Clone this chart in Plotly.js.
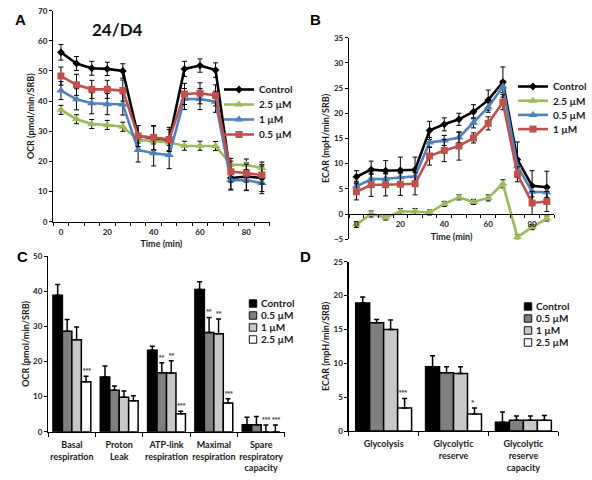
<!DOCTYPE html>
<html>
<head>
<meta charset="utf-8">
<script src="https://cdn.plot.ly/plotly-3.0.1.min.js"></script>
<style>
  html, body { margin: 0; padding: 0; background: #fff; }
  #chart { width: 592px; height: 480px; }
</style>
</head>
<body>
<div id="chart"></div>
<script>
// ---------- Panel A: OCR time course ----------
const timeMin = [0, 6.7, 13.3, 20, 26.7, 33.3, 40, 46.7, 53.3, 60, 66.7, 73.3, 80, 86.7];
const timeTickVals = [0, 20, 40, 60, 80];

const ocrControl    = [56.2, 52.5, 50.9, 50.7, 50.0, 28.4, 27.7, 27.1, 50.7, 51.8, 50.3, 14.5, 15.0, 14.5];
const ocrControlErr = [2.6, 2.3, 2.3, 2.2, 2.4, 3.5, 4.0, 3.5, 2.5, 2.2, 2.4, 4.0, 4.5, 4.5];
const ocr25         = [37.1, 34.0, 32.4, 32.1, 31.5, 27.1, 26.8, 26.3, 25.2, 25.2, 25.1, 19.0, 18.8, 17.8];
const ocr25Err      = [1.5, 1.5, 1.5, 1.5, 1.5, 1.0, 1.0, 1.0, 1.5, 1.5, 1.5, 2.0, 2.0, 2.0];
const ocr1          = [43.5, 40.6, 39.3, 39.0, 38.9, 23.8, 22.7, 22.1, 40.7, 40.7, 39.8, 13.8, 13.8, 12.8];
const ocr1Err       = [3.0, 3.5, 3.5, 3.5, 3.5, 4.0, 4.2, 4.5, 3.5, 3.5, 3.5, 3.0, 3.5, 3.5];
const ocr05         = [48.3, 45.4, 43.9, 43.9, 43.5, 28.4, 27.9, 27.3, 42.4, 42.6, 41.9, 16.6, 16.1, 15.5];
const ocr05Err      = [3.0, 3.5, 3.0, 3.0, 3.5, 3.5, 4.0, 4.0, 3.5, 3.5, 3.5, 3.5, 3.0, 3.0];

// ---------- Panel B: ECAR time course ----------
const ecarControl    = [7.4, 8.8, 8.6, 8.7, 8.8, 16.6, 17.8, 18.8, 20.3, 22.6, 26.2, 10.8, 5.6, 5.3];
const ecarControlErr = [1.2, 1.7, 2.0, 2.6, 2.5, 1.8, 1.3, 1.2, 1.4, 2.0, 3.0, 3.5, 3.0, 3.2];
const ecar25         = [-2.1, 0.0, -0.7, 0.5, 0.5, 0.3, 2.0, 3.3, 2.4, 3.2, 6.0, -4.6, -2.6, -0.9];
const ecar25Err      = [0.6, 0.6, 0.5, 0.6, 0.6, 0.5, 0.5, 0.5, 0.5, 0.6, 0.8, 0.5, 0.5, 0.5];
const ecar05         = [5.5, 6.9, 7.0, 7.3, 7.5, 14.2, 14.6, 15.2, 18.1, 21.2, 25.3, 9.5, 4.4, 4.3];
const ecar05Err      = [1.0, 1.0, 1.0, 1.0, 1.0, 1.0, 1.0, 1.0, 1.0, 1.0, 1.2, 1.5, 1.0, 1.0];
const ecar1          = [4.4, 5.8, 5.8, 5.9, 6.0, 11.5, 12.6, 13.5, 15.1, 18.0, 22.2, 7.9, 2.2, 2.5];
const ecar1Err       = [1.6, 2.3, 2.2, 2.2, 2.2, 1.8, 2.2, 2.8, 1.0, 1.3, 1.5, 1.5, 2.3, 2.0];

// ---------- Panel C: OCR parameters ----------
const catsC = ['Basal<br>respiration', 'Proton<br>Leak', 'ATP-link<br>respiration', 'Maximal<br>respiration', 'Spare<br>respiratory<br>capacity'];
const cCtrl   = [38.8, 15.6, 23.2, 40.5, 2.0];
const cCtrlE  = [3.1, 3.1, 1.1, 2.2, 2.1];
const c05     = [28.6, 11.8, 16.8, 28.2, 2.0];
const c05E    = [3.3, 1.2, 2.8, 4.3, 2.3];
const c1      = [26.2, 9.8, 16.7, 27.9, 0.0];
const c1E     = [3.6, 1.8, 3.5, 4.2, 1.9];
const c25     = [14.2, 8.8, 5.1, 8.2, 0.0];
const c25E    = [1.6, 1.4, 0.7, 1.2, 1.9];
const cSigCtrl = ['', '', '', '', ''];
const cSig05   = ['', '', '**', '**', ''];
const cSig1    = ['', '', '**', '**', '***'];
const cSig25   = ['***', '', '***', '***', '***'];

// ---------- Panel D: ECAR parameters ----------
const catsD = ['Glycolysis', 'Glycolytic<br>reserve', 'Glycolytic<br>reserve<br>capacity'];
const dCtrl  = [18.9, 9.5, 1.3];
const dCtrlE = [0.9, 1.6, 1.5];
const d05    = [16.0, 8.6, 1.6];
const d05E   = [0.45, 0.9, 0.6];
const d1     = [15.0, 8.5, 1.6];
const d1E    = [1.4, 1.0, 0.6];
const d25    = [3.4, 2.5, 1.6];
const d25E   = [1.4, 0.9, 0.7];
const dSigCtrl = ['', '', ''];
const dSig05   = ['', '', ''];
const dSig1    = ['', '', ''];
const dSig25   = ['***', '*', ''];

// ---------- styles ----------
const FONT = 'Lato, "Open Sans", sans-serif';
const STAR_FONT = '"Liberation Sans", Arial, sans-serif';
const TXT = '#1a1a1a';
const colCtrl = '#000000', colGreen = '#9BBB59', colBlue = '#4F81BD', colRed = '#C0504D';
const barFill = ['#000000', '#7f7f7f', '#c8c8c8', '#ffffff'];
const barNames = ['Control', '0.5 \u00b5M', '1 \u00b5M', '2.5 \u00b5M'];
const W = 592, H = 480;

function lineTrace(x, y, err, name, color, symbol, msize, xa, ya, lg) {
  return {
    type: 'scatter', mode: 'lines+markers', x: x, y: y, name: name,
    xaxis: xa, yaxis: ya, legend: lg,
    line: { color: color, width: 2.6 },
    marker: { color: color, symbol: symbol, size: msize },
    error_y: { type: 'data', array: err, visible: true, color: '#000', thickness: 1, width: 2.5 }
  };
}

const data = [];
// Panel A
data.push(lineTrace(timeMin, ocrControl, ocrControlErr, 'Control', colCtrl, 'diamond', 6, 'x', 'y', 'legend'));
data.push(lineTrace(timeMin, ocr25, ocr25Err, '2.5 \u00b5M', colGreen, 'triangle-up', 8, 'x', 'y', 'legend'));
data.push(lineTrace(timeMin, ocr1, ocr1Err, '1 \u00b5M', colBlue, 'triangle-up', 8, 'x', 'y', 'legend'));
data.push(lineTrace(timeMin, ocr05, ocr05Err, '0.5 \u00b5M', colRed, 'square', 7, 'x', 'y', 'legend'));
// Panel B
data.push(lineTrace(timeMin, ecarControl, ecarControlErr, 'Control', colCtrl, 'diamond', 6, 'x2', 'y2', 'legend2'));
data.push(lineTrace(timeMin, ecar25, ecar25Err, '2.5 \u00b5M', colGreen, 'triangle-up', 8, 'x2', 'y2', 'legend2'));
data.push(lineTrace(timeMin, ecar05, ecar05Err, '0.5 \u00b5M', colBlue, 'triangle-up', 8, 'x2', 'y2', 'legend2'));
data.push(lineTrace(timeMin, ecar1, ecar1Err, '1 \u00b5M', colRed, 'square', 7, 'x2', 'y2', 'legend2'));

// Bar panels
const gapC = 0.16, gapD = 0.27;
function barSet(cats, series, errs, sigs, xa, ya, lg, gap, ymaxPad) {
  const idx = cats.map((c, i) => i);
  const w = (1 - gap) / series.length;
  series.forEach((vals, s) => {
    data.push({
      type: 'bar', x: idx, y: vals, name: barNames[s], xaxis: xa, yaxis: ya, legend: lg,
      marker: { color: barFill[s], line: { color: '#000', width: 1.5 } },
      error_y: { type: 'data', symmetric: false, array: errs[s], arrayminus: errs[s].map(() => 0),
                 color: '#000', thickness: 1.5, width: 2.5 }
    });
  });
  series.forEach((vals, s) => {
    const off = (s - (series.length - 1) / 2) * w;
    data.push({
      type: 'scatter', mode: 'text', showlegend: false, hoverinfo: 'skip',
      x: idx.map(i => i + off), y: vals.map((v, i) => v + errs[s][i] + ymaxPad),
      text: sigs[s], textposition: 'middle center', xaxis: xa, yaxis: ya,
      textfont: { family: STAR_FONT, size: 7, color: '#4a4a4a' }
    });
  });
}
barSet(catsC, [cCtrl, c05, c1, c25], [cCtrlE, c05E, c1E, c25E], [cSigCtrl, cSig05, cSig1, cSig25], 'x3', 'y3', 'legend3', gapC, 1.4);
barSet(catsD, [dCtrl, d05, d1, d25], [dCtrlE, d05E, d1E, d25E], [dSigCtrl, dSig05, dSig1, dSig25], 'x4', 'y4', 'legend4', gapD, 0.7);

// domains (paper fractions)
const px = v => v / W, py = v => 1 - v / H;

const baseAxis = {
  showgrid: false, zeroline: false, showline: true, linecolor: '#000', linewidth: 1.3,
  tickfont: { family: FONT, size: 8, color: TXT, weight: 'bold' },
  ticks: 'outside', ticklen: 3, tickcolor: '#000', tickwidth: 1, fixedrange: true
};
const timeXAxis = (dom, anchor, stand) => Object.assign({}, baseAxis, {
  domain: dom, anchor: anchor, range: [-3.333, 90], tickmode: 'array', tickvals: timeTickVals,
  ticks: '', ticklabelstandoff: 2,
  minor: { ticks: 'outside', tick0: -3.333, dtick: 6.6667, ticklen: 3, tickcolor: '#000', tickwidth: 1 },
  title: { text: 'Time (min)', font: { family: FONT, size: 9, color: TXT, weight: 'bold' }, standoff: stand }
});
const catXAxis = (dom, anchor, cats, rng) => Object.assign({}, baseAxis, {
  domain: dom, anchor: anchor, range: rng, tickmode: 'array', tickvals: cats.map((c, i) => i), ticktext: cats,
  ticks: '', ticklabelstandoff: 4, tickfont: { family: FONT, size: 9, color: TXT, weight: 'bold' },
  minor: { ticks: 'outside', tick0: -0.5, dtick: 1, ticklen: 4, tickcolor: '#000', tickwidth: 1 }
});
const yTitle = (t) => ({ text: t, font: { family: FONT, size: 9, color: TXT, weight: 'bold' }, standoff: 2 });

const yA = [py(221.7), py(10.7)];
const yB = [py(239.2), py(37.7)];
const bZeroPos = yB[0] + (0 - (-5)) / 40 * (yB[1] - yB[0]);

const legendBase = { xanchor: 'left', yanchor: 'top', bgcolor: 'rgba(0,0,0,0)', itemwidth: 30, tracegroupgap: 0,
  font: { family: FONT, size: 10, color: TXT, weight: 'bold' } };
const letterFont = { family: '"Liberation Sans", Arial', size: 15, color: '#000', weight: 'bold' };

const layout = {
  width: W, height: H, margin: { l: 0, r: 0, t: 0, b: 0 },
  paper_bgcolor: '#fff', plot_bgcolor: 'rgba(0,0,0,0)',
  font: { family: FONT, size: 9, color: TXT, weight: 'bold' },
  barmode: 'group', bargap: 0.2, bargroupgap: 0,
  xaxis: timeXAxis([px(53.3), px(270)], 'y', 5),
  yaxis: Object.assign({}, baseAxis, { domain: yA, anchor: 'x', range: [0, 70], dtick: 10, title: yTitle('OCR (pmol/min/SRB)') }),
  xaxis2: Object.assign(timeXAxis([px(349.7), px(555)], 'free', 5), { position: bZeroPos }),
  yaxis2: Object.assign({}, baseAxis, { domain: yB, anchor: 'x2', range: [-5, 35], dtick: 5, title: yTitle('ECAR (mpH/min/SRB)') }),
  xaxis3: catXAxis([px(48.3), px(285.3)], 'y3', catsC, [-0.5, 4.5]),
  yaxis3: Object.assign({}, baseAxis, { domain: [py(431.7), py(256)], anchor: 'x3', range: [0, 50], dtick: 10, title: yTitle('OCR (pmol/min/SRB)') }),
  xaxis4: catXAxis([px(349.3), px(559.3)], 'y4', catsD, [-0.5, 2.5]),
  yaxis4: Object.assign({}, baseAxis, { domain: [py(431), py(261.7)], anchor: 'x4', range: [0, 25], dtick: 5, title: yTitle('ECAR (mpH/min/SRB)') }),
  legend:  Object.assign({}, legendBase, { x: px(219), y: py(75) }),
  legend2: Object.assign({}, legendBase, { x: px(514), y: py(72) }),
  legend3: Object.assign({}, legendBase, { x: px(221), y: py(289) }),
  legend4: Object.assign({}, legendBase, { x: px(496), y: py(292) }),
  annotations: [
    { text: 'A', x: px(13), y: py(9), xref: 'paper', yref: 'paper', showarrow: false, font: letterFont },
    { text: 'B', x: px(316), y: py(9), xref: 'paper', yref: 'paper', showarrow: false, font: letterFont },
    { text: 'C', x: px(15), y: py(256), xref: 'paper', yref: 'paper', showarrow: false, font: letterFont },
    { text: 'D', x: px(306), y: py(256), xref: 'paper', yref: 'paper', showarrow: false, font: letterFont },
    { text: '24/D4', x: px(90), y: py(17), xref: 'paper', yref: 'paper', showarrow: false, font: { family: FONT, size: 17, color: '#111', weight: 'bold' } }
  ],
  showlegend: true
};

// legend entry spacing (px) and bar-swatch styling, applied after drawing
const legendSpacing = { legend: 15, legend2: 14.2, legend3: 12, legend4: 12 };
const barLegends = ['legend3', 'legend4'];

function tightenLegends(gd) {
  Object.keys(legendSpacing).forEach(id => {
    const lg = gd.querySelector('g.' + id);
    if (!lg) return;
    const items = lg.querySelectorAll('g.traces');
    let y0 = null;
    items.forEach((it, i) => {
      const m = /translate\(\s*([-\d.]+)[ ,]+([-\d.]+)\s*\)/.exec(it.getAttribute('transform') || '');
      if (!m) return;
      if (y0 === null) y0 = parseFloat(m[2]);
      it.setAttribute('transform', 'translate(' + m[1] + ',' + (y0 + i * legendSpacing[id]) + ')');
    });
    if (barLegends.indexOf(id) >= 0) {
      lg.querySelectorAll('g.legendpoints path').forEach(p => {
        p.setAttribute('transform', 'translate(32,0) scale(0.62)');
      });
    }
  });
}

const gd = document.getElementById('chart');
Plotly.newPlot(gd, data, layout, { displayModeBar: false, staticPlot: true }).then(() => tightenLegends(gd));
</script>
</body>
</html>
